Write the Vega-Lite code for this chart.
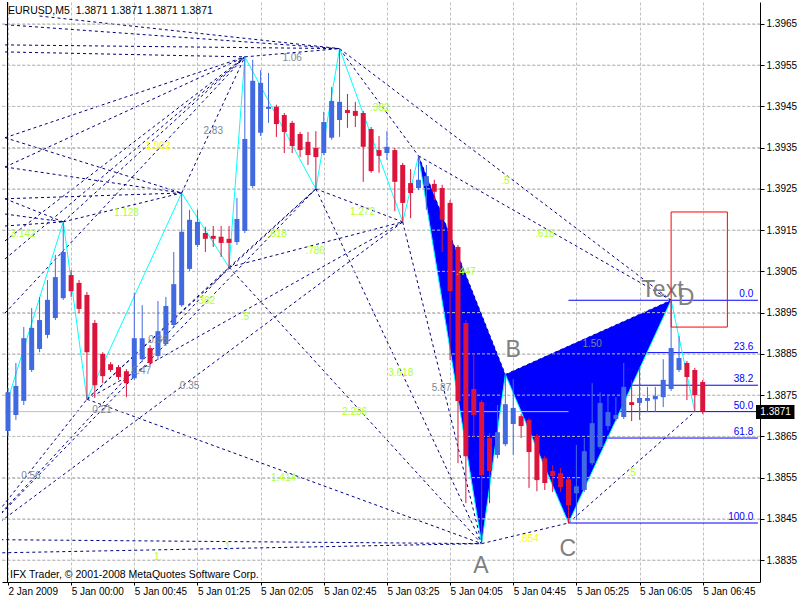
{
  "$schema": "https://vega.github.io/schema/vega-lite/v6.json",
  "width": 758,
  "height": 580,
  "autosize": {"type": "none"},
  "padding": {"left": 2, "top": 2, "right": 40, "bottom": 18},
  "background": "white",
  "config": {
    "view": {"stroke": null},
    "font": "Liberation Sans",
    "axis": {"labelFont": "Liberation Sans"}
  },
  "datasets": {
    "candles": [
      {"i":0,"o":1.38663,"h":1.38767,"l":1.38651,"c":1.38757},
      {"i":1,"o":1.38702,"h":1.38828,"l":1.3869,"c":1.38772},
      {"i":2,"o":1.38736,"h":1.38915,"l":1.38726,"c":1.38888},
      {"i":3,"o":1.38811,"h":1.38961,"l":1.38806,"c":1.38913},
      {"i":4,"o":1.38862,"h":1.38988,"l":1.38854,"c":1.38932},
      {"i":5,"o":1.38896,"h":1.39029,"l":1.38888,"c":1.38981},
      {"i":6,"o":1.38937,"h":1.3909,"l":1.38932,"c":1.39036},
      {"i":7,"o":1.38985,"h":1.3917,"l":1.38981,"c":1.39097},
      {"i":8,"o":1.39041,"h":1.39053,"l":1.38988,"c":1.39002},
      {"i":9,"o":1.39022,"h":1.39029,"l":1.38949,"c":1.38959},
      {"i":10,"o":1.38993,"h":1.39,"l":1.3874,"c":1.38854},
      {"i":11,"o":1.38925,"h":1.38932,"l":1.38743,"c":1.38774},
      {"i":12,"o":1.3885,"h":1.38854,"l":1.38779,"c":1.38796},
      {"i":13,"o":1.38825,"h":1.3883,"l":1.38806,"c":1.38811},
      {"i":14,"o":1.38818,"h":1.38823,"l":1.38787,"c":1.38794},
      {"i":15,"o":1.38808,"h":1.38813,"l":1.38745,"c":1.38779},
      {"i":16,"o":1.38791,"h":1.38998,"l":1.38787,"c":1.38888},
      {"i":17,"o":1.38837,"h":1.38968,"l":1.3883,"c":1.38888},
      {"i":18,"o":1.38864,"h":1.38871,"l":1.38821,"c":1.38828},
      {"i":19,"o":1.38845,"h":1.38978,"l":1.38835,"c":1.38905},
      {"i":20,"o":1.38874,"h":1.38988,"l":1.38869,"c":1.38966},
      {"i":21,"o":1.3892,"h":1.39097,"l":1.38915,"c":1.39019},
      {"i":22,"o":1.38968,"h":1.3924,"l":1.38964,"c":1.39146},
      {"i":23,"o":1.39056,"h":1.39199,"l":1.39051,"c":1.39175},
      {"i":24,"o":1.39114,"h":1.39199,"l":1.39109,"c":1.3917},
      {"i":25,"o":1.39143,"h":1.39158,"l":1.39097,"c":1.39129},
      {"i":26,"o":1.39136,"h":1.3916,"l":1.39109,"c":1.39129},
      {"i":27,"o":1.39134,"h":1.3916,"l":1.39085,"c":1.39119},
      {"i":28,"o":1.39129,"h":1.3916,"l":1.3906,"c":1.39119},
      {"i":29,"o":1.39121,"h":1.39228,"l":1.39114,"c":1.39177},
      {"i":30,"o":1.39148,"h":1.3957,"l":1.39143,"c":1.39371},
      {"i":31,"o":1.39257,"h":1.39563,"l":1.39252,"c":1.39512},
      {"i":32,"o":1.39386,"h":1.39538,"l":1.39378,"c":1.39507},
      {"i":33,"o":1.39444,"h":1.39531,"l":1.3941,"c":1.39449},
      {"i":34,"o":1.39449,"h":1.39454,"l":1.39376,"c":1.39407},
      {"i":35,"o":1.39429,"h":1.39434,"l":1.39337,"c":1.39388},
      {"i":36,"o":1.3941,"h":1.39415,"l":1.39337,"c":1.39354},
      {"i":37,"o":1.39383,"h":1.39388,"l":1.39327,"c":1.39344},
      {"i":38,"o":1.39364,"h":1.39388,"l":1.39308,"c":1.39332},
      {"i":39,"o":1.39349,"h":1.3939,"l":1.3925,"c":1.39327},
      {"i":40,"o":1.39337,"h":1.39437,"l":1.39332,"c":1.39412},
      {"i":41,"o":1.39374,"h":1.39497,"l":1.39369,"c":1.39463},
      {"i":42,"o":1.39417,"h":1.3959,"l":1.39376,"c":1.39461},
      {"i":43,"o":1.39441,"h":1.3948,"l":1.39398,"c":1.39434},
      {"i":44,"o":1.39439,"h":1.39461,"l":1.394,"c":1.39427},
      {"i":45,"o":1.39434,"h":1.39439,"l":1.39267,"c":1.39352},
      {"i":46,"o":1.39395,"h":1.394,"l":1.39289,"c":1.39293},
      {"i":47,"o":1.39344,"h":1.39378,"l":1.39289,"c":1.3933},
      {"i":48,"o":1.39337,"h":1.3939,"l":1.3932,"c":1.39352},
      {"i":49,"o":1.39344,"h":1.39349,"l":1.39196,"c":1.39267},
      {"i":50,"o":1.39308,"h":1.39313,"l":1.3917,"c":1.39216},
      {"i":51,"o":1.39264,"h":1.39298,"l":1.39179,"c":1.3924},
      {"i":52,"o":1.39252,"h":1.3933,"l":1.39247,"c":1.39272},
      {"i":53,"o":1.39257,"h":1.39308,"l":1.39199,"c":1.39281},
      {"i":54,"o":1.39262,"h":1.39272,"l":1.39223,"c":1.39243},
      {"i":55,"o":1.39252,"h":1.3926,"l":1.39097,"c":1.39175},
      {"i":56,"o":1.39216,"h":1.39223,"l":1.38835,"c":1.39002},
      {"i":57,"o":1.39109,"h":1.39114,"l":1.38585,"c":1.38736},
      {"i":58,"o":1.38925,"h":1.38932,"l":1.38488,"c":1.38602},
      {"i":59,"o":1.38765,"h":1.38852,"l":1.38648,"c":1.38702},
      {"i":60,"o":1.38733,"h":1.38738,"l":1.3839,"c":1.38556},
      {"i":61,"o":1.38646,"h":1.38658,"l":1.38488,"c":1.38566},
      {"i":62,"o":1.38605,"h":1.38726,"l":1.38597,"c":1.3866},
      {"i":63,"o":1.38631,"h":1.388,"l":1.38626,"c":1.38728},
      {"i":64,"o":1.3868,"h":1.38789,"l":1.38605,"c":1.38719},
      {"i":65,"o":1.38699,"h":1.38704,"l":1.38646,"c":1.38675},
      {"i":66,"o":1.3869,"h":1.38694,"l":1.38525,"c":1.38612},
      {"i":67,"o":1.38651,"h":1.38656,"l":1.38517,"c":1.38544},
      {"i":68,"o":1.38597,"h":1.38602,"l":1.3852,"c":1.38537},
      {"i":69,"o":1.38566,"h":1.3858,"l":1.38515,"c":1.38554},
      {"i":70,"o":1.38561,"h":1.38573,"l":1.38515,"c":1.38527},
      {"i":71,"o":1.38546,"h":1.38551,"l":1.3844,"c":1.38483},
      {"i":72,"o":1.38512,"h":1.38629,"l":1.38447,"c":1.38529},
      {"i":73,"o":1.3852,"h":1.38646,"l":1.38515,"c":1.38614},
      {"i":74,"o":1.38585,"h":1.38779,"l":1.3858,"c":1.38682},
      {"i":75,"o":1.38624,"h":1.38757,"l":1.38619,"c":1.38731},
      {"i":76,"o":1.38675,"h":1.3875,"l":1.38665,"c":1.38709},
      {"i":77,"o":1.38692,"h":1.38745,"l":1.38687,"c":1.38702},
      {"i":78,"o":1.38697,"h":1.38828,"l":1.38692,"c":1.3877},
      {"i":79,"o":1.38733,"h":1.38787,"l":1.38687,"c":1.38726},
      {"i":80,"o":1.38731,"h":1.38816,"l":1.3869,"c":1.38743},
      {"i":81,"o":1.38736,"h":1.3877,"l":1.38709,"c":1.38743},
      {"i":82,"o":1.3874,"h":1.3877,"l":1.38709,"c":1.38748},
      {"i":83,"o":1.38745,"h":1.38837,"l":1.38721,"c":1.38787},
      {"i":84,"o":1.38765,"h":1.3898,"l":1.3876,"c":1.38864},
      {"i":85,"o":1.38811,"h":1.38893,"l":1.38806,"c":1.3884},
      {"i":86,"o":1.38828,"h":1.38833,"l":1.38738,"c":1.38794},
      {"i":87,"o":1.38811,"h":1.38816,"l":1.3871,"c":1.3875},
      {"i":88,"o":1.38782,"h":1.38787,"l":1.38704,"c":1.3871}
    ],
    "zigzag": [
      {"x":0,"p":1.3874},{"x":7,"p":1.3917},{"x":10,"p":1.3874},{"x":22,"p":1.3924},
      {"x":28,"p":1.3906},{"x":30,"p":1.3957},{"x":39,"p":1.3925},{"x":42,"p":1.3959},
      {"x":50,"p":1.3917},{"x":52,"p":1.3933},{"x":60,"p":1.3839},{"x":63,"p":1.388},
      {"x":71,"p":1.3844},{"x":84,"p":1.3898},{"x":87,"p":1.3871}
    ],
    "web": [
      {"x1":4,"p1":1.39669,"x2":42,"p2":1.3959},
      {"x1":-0.375,"p1":1.39648,"x2":42,"p2":1.3959},
      {"x1":-0.375,"p1":1.39599,"x2":42,"p2":1.3959},
      {"x1":-0.375,"p1":1.39582,"x2":30,"p2":1.3957},
      {"x1":-0.375,"p1":1.39374,"x2":30,"p2":1.3957},
      {"x1":-0.375,"p1":1.39374,"x2":22,"p2":1.3924},
      {"x1":-0.375,"p1":1.39303,"x2":22,"p2":1.3924},
      {"x1":-0.375,"p1":1.39303,"x2":30,"p2":1.3957},
      {"x1":-0.375,"p1":1.39226,"x2":7,"p2":1.3917},
      {"x1":-0.375,"p1":1.39226,"x2":22,"p2":1.3924},
      {"x1":-0.375,"p1":1.39189,"x2":7,"p2":1.3917},
      {"x1":-0.375,"p1":1.3916,"x2":7,"p2":1.3917},
      {"x1":-0.375,"p1":1.39124,"x2":30,"p2":1.3957},
      {"x1":-0.375,"p1":1.3908,"x2":30,"p2":1.3957},
      {"x1":-0.375,"p1":1.38949,"x2":30,"p2":1.3957},
      {"x1":7,"p1":1.3917,"x2":22,"p2":1.3924},
      {"x1":7,"p1":1.3917,"x2":30,"p2":1.3957},
      {"x1":22,"p1":1.3924,"x2":30,"p2":1.3957},
      {"x1":30,"p1":1.3957,"x2":42,"p2":1.3959},
      {"x1":42,"p1":1.3959,"x2":52,"p2":1.3933},
      {"x1":42,"p1":1.3959,"x2":84,"p2":1.3898},
      {"x1":52,"p1":1.3933,"x2":63,"p2":1.388},
      {"x1":52,"p1":1.3933,"x2":84,"p2":1.3898},
      {"x1":63,"p1":1.388,"x2":84,"p2":1.3898},
      {"x1":-22,"p1":1.3836,"x2":60,"p2":1.3839},
      {"x1":-4,"p1":1.384,"x2":60,"p2":1.3839},
      {"x1":-4,"p1":1.384,"x2":10,"p2":1.3874},
      {"x1":-4,"p1":1.384,"x2":28,"p2":1.3906},
      {"x1":-4,"p1":1.384,"x2":39,"p2":1.3925},
      {"x1":-4,"p1":1.384,"x2":50,"p2":1.3917},
      {"x1":10,"p1":1.3874,"x2":28,"p2":1.3906},
      {"x1":10,"p1":1.3874,"x2":39,"p2":1.3925},
      {"x1":10,"p1":1.3874,"x2":50,"p2":1.3917},
      {"x1":10,"p1":1.3874,"x2":60,"p2":1.3839},
      {"x1":28,"p1":1.3906,"x2":39,"p2":1.3925},
      {"x1":28,"p1":1.3906,"x2":50,"p2":1.3917},
      {"x1":28,"p1":1.3906,"x2":60,"p2":1.3839},
      {"x1":39,"p1":1.3925,"x2":50,"p2":1.3917},
      {"x1":39,"p1":1.3925,"x2":60,"p2":1.3839},
      {"x1":50,"p1":1.3917,"x2":60,"p2":1.3839},
      {"x1":60,"p1":1.3839,"x2":71,"p2":1.3844},
      {"x1":71,"p1":1.3844,"x2":87,"p2":1.3871}
    ],
    "ratios": [
      {"x":36.0,"p":1.39568,"t":"1.06","g":"off"},
      {"x":47.1,"p":1.39446,"t":".382","g":"fib"},
      {"x":63.0,"p":1.39269,"t":".5","g":"fib"},
      {"x":68.0,"p":1.39141,"t":".618","g":"fib"},
      {"x":58.0,"p":1.39049,"t":".447","g":"fib"},
      {"x":54.9,"p":1.38767,"t":"5.87","g":"off"},
      {"x":49.75,"p":1.38804,"t":"3.618","g":"fib"},
      {"x":43.9,"p":1.38709,"t":"2.236","g":"fib"},
      {"x":34.9,"p":1.38549,"t":"1.414","g":"fib"},
      {"x":66.0,"p":1.38401,"t":".854","g":"near"},
      {"x":74.0,"p":1.38874,"t":"1.50","g":"off"},
      {"x":79.0,"p":1.38561,"t":".5","g":"fib"},
      {"x":44.9,"p":1.39194,"t":"1.272","g":"fib"},
      {"x":38.9,"p":1.391,"t":".786","g":"fib"},
      {"x":34.1,"p":1.39141,"t":".618","g":"fib"},
      {"x":25.0,"p":1.38978,"t":".382","g":"fib"},
      {"x":30.0,"p":1.38939,"t":".5","g":"fib"},
      {"x":15.0,"p":1.39192,"t":"1.128","g":"fib"},
      {"x":1.9,"p":1.39141,"t":"3.142","g":"fib"},
      {"x":19.0,"p":1.39354,"t":"1.902","g":"near"},
      {"x":26.0,"p":1.3939,"t":"2.83","g":"off"},
      {"x":23.0,"p":1.38772,"t":"0.35","g":"off"},
      {"x":19.0,"p":1.38884,"t":"0.36","g":"off"},
      {"x":16.9,"p":1.38808,"t":"0.47","g":"off"},
      {"x":11.9,"p":1.38714,"t":"0.21","g":"off"},
      {"x":2.9,"p":1.38554,"t":"0.56","g":"off"},
      {"x":19.0,"p":1.38357,"t":"1.","g":"fib"},
      {"x":28.0,"p":1.38382,"t":"1.","g":"fib"}
    ],
    "triangles": [
      {"tri":"XAB","x":52,"lo":1.3933,"hi":1.3933},
      {"tri":"XAB","x":60,"lo":1.3839,"hi":1.38945},
      {"tri":"XAB","x":63,"lo":1.388,"hi":1.388},
      {"tri":"BCD","x":63,"lo":1.388,"hi":1.388},
      {"tri":"BCD","x":71,"lo":1.3844,"hi":1.38869},
      {"tri":"BCD","x":84,"lo":1.3898,"hi":1.3898}
    ],
    "fibo": [
      {"lvl":"0.0","p":1.3898},
      {"lvl":"23.6","p":1.38853},
      {"lvl":"38.2","p":1.38774},
      {"lvl":"50.0","p":1.3871},
      {"lvl":"61.8","p":1.38646},
      {"lvl":"100.0","p":1.3844}
    ],
    "gridp": [
      {"p":1.3835},{"p":1.3845},{"p":1.3855},{"p":1.3865},{"p":1.3875},
      {"p":1.3885},{"p":1.3895},{"p":1.3905},{"p":1.3915},{"p":1.3925},
      {"p":1.3935},{"p":1.3945},{"p":1.3955},{"p":1.3965}
    ],
    "points": [
      {"x":59.9,"p":1.38335,"t":"A"},
      {"x":64.0,"p":1.38859,"t":"B"},
      {"x":70.9,"p":1.38377,"t":"C"},
      {"x":85.9,"p":1.38985,"t":"D"},
      {"x":82.9,"p":1.39005,"t":"Text"}
    ],
    "notes": [
      {"x":0,"p":1.39682,"t":"EURUSD,M5\u00a0 1.3871 1.3871 1.3871 1.3871"},
      {"x":0.25,"p":1.38314,"t":"IFX Trader, © 2001-2008 MetaQuotes Software Corp."}
    ]
  },
  "layer": [
    {
      "data": {"name": "web"},
      "mark": {"type": "rule", "color": "#000080", "strokeWidth": 1, "strokeDash": [3, 3], "clip": true},
      "encoding": {
        "x": {"field": "x1", "type": "quantitative", "title": null,
              "scale": {"domain": [-0.125, 94.625], "nice": false, "zero": false},
              "axis": {
                "orient": "bottom",
                "values": [0,4,8,12,16,20,24,28,32,36,40,44,48,52,56,60,64,68,72,76,80,84,88,92],
                "labelExpr": "datum.value % 8 == 0 ? ['2 Jan 2009','5 Jan 00:00','5 Jan 00:45','5 Jan 01:25','5 Jan 02:05','5 Jan 02:45','5 Jan 03:25','5 Jan 04:05','5 Jan 04:45','5 Jan 05:25','5 Jan 06:05','5 Jan 06:45'][datum.value / 8] : ''",
                "labelAlign": "left", "labelBaseline": "top", "labelFontSize": 10, "labelColor": "black",
                "labelPadding": 1, "labelFlush": false, "labelOverlap": false,
                "tickSize": 3, "tickColor": "black",
                "tickOpacity": {"condition": {"test": "datum.value % 8 == 0", "value": 1}, "value": 0},
                "domainColor": "black",
                "grid": true, "gridColor": "#C0C0C0", "gridDash": [3, 2]
              }},
        "x2": {"field": "x2"},
        "y": {"field": "p1", "type": "quantitative", "title": null,
              "scale": {"domain": [1.38297, 1.39703], "nice": false, "zero": false},
              "axis": {
                "orient": "right",
                "values": [1.3835,1.3845,1.3855,1.3865,1.3875,1.3885,1.3895,1.3905,1.3915,1.3925,1.3935,1.3945,1.3955,1.3965],
                "format": ".4f", "labelFontSize": 10, "labelColor": "black", "labelPadding": 2,
                "tickSize": 4, "tickColor": "black", "domainColor": "black",
                "grid": true, "gridColor": "#C0C0C0", "gridDash": [3, 2]
              }},
        "y2": {"field": "p2"}
      }
    },
    {
      "data": {"name": "fibo"},
      "mark": {"type": "rule", "color": "#0000FF", "strokeWidth": 1, "clip": true},
      "encoding": {
        "x": {"datum": 71, "type": "quantitative", "title": null},
        "x2": {"datum": 95},
        "y": {"field": "p", "type": "quantitative", "title": null}
      }
    },
    {
      "data": {"name": "triangles"},
      "mark": {"type": "area", "color": "#0000FF", "opacity": 1, "interpolate": "linear"},
      "encoding": {
        "x": {"field": "x", "type": "quantitative", "title": null},
        "y": {"field": "lo", "type": "quantitative", "title": null},
        "y2": {"field": "hi"},
        "detail": {"field": "tri"}
      }
    },
    {
      "data": {"name": "gridp"},
      "mark": {"type": "rule", "color": "#C0C0C0", "strokeWidth": 1, "strokeDash": [3, 2]},
      "encoding": {
        "y": {"field": "p", "type": "quantitative", "title": null}
      }
    },
    {
      "data": {"values": [{"x1": -0.375, "x2": 71, "p": 1.3871}]},
      "mark": {"type": "rule", "color": "#C0C0C0", "strokeWidth": 1, "clip": true},
      "encoding": {
        "x": {"field": "x1", "type": "quantitative", "title": null},
        "x2": {"field": "x2"},
        "y": {"field": "p", "type": "quantitative", "title": null}
      }
    },
    {
      "data": {"values": [{}]},
      "mark": {"type": "rule", "color": "black", "strokeWidth": 1},
      "encoding": {
        "x": {"datum": -0.0625, "type": "quantitative", "title": null}
      }
    },
    {
      "data": {"name": "zigzag"},
      "mark": {"type": "line", "color": "#00FFFF", "strokeWidth": 1},
      "encoding": {
        "x": {"field": "x", "type": "quantitative", "title": null},
        "y": {"field": "p", "type": "quantitative", "title": null}
      }
    },
    {
      "data": {"name": "candles"},
      "mark": {"type": "rule", "strokeWidth": 1},
      "encoding": {
        "x": {"field": "i", "type": "quantitative", "title": null},
        "y": {"field": "l", "type": "quantitative", "title": null},
        "y2": {"field": "h"},
        "color": {"condition": {"test": "datum.c >= datum.o", "value": "#4169E1"}, "value": "#DC143C"}
      }
    },
    {
      "data": {"name": "candles"},
      "mark": {"type": "bar", "width": 5, "orient": "vertical"},
      "encoding": {
        "x": {"field": "i", "type": "quantitative", "title": null},
        "y": {"field": "o", "type": "quantitative", "title": null},
        "y2": {"field": "c"},
        "color": {"condition": {"test": "datum.c >= datum.o", "value": "#4169E1"}, "value": "#DC143C"}
      }
    },
    {
      "data": {"name": "ratios"},
      "mark": {"type": "text", "fontSize": 10, "align": "center", "baseline": "middle"},
      "encoding": {
        "x": {"field": "x", "type": "quantitative", "title": null},
        "y": {"field": "p", "type": "quantitative", "title": null},
        "text": {"field": "t"},
        "color": {"field": "g", "type": "nominal", "legend": null,
                  "scale": {"domain": ["fib", "near", "off"], "range": ["#ADFF2F", "#FFFF00", "#778899"]}}
      }
    },
    {
      "data": {"name": "fibo"},
      "mark": {"type": "text", "fontSize": 10, "align": "right", "baseline": "bottom", "dy": -1, "color": "#0000FF"},
      "encoding": {
        "x": {"datum": 94.4, "type": "quantitative", "title": null},
        "y": {"field": "p", "type": "quantitative", "title": null},
        "text": {"field": "lvl"}
      }
    },
    {
      "data": {"name": "points"},
      "mark": {"type": "text", "fontSize": 23, "align": "center", "baseline": "middle", "color": "#808080"},
      "encoding": {
        "x": {"field": "x", "type": "quantitative", "title": null},
        "y": {"field": "p", "type": "quantitative", "title": null},
        "text": {"field": "t"}
      }
    },
    {
      "data": {"values": [{"x1": 84, "x2": 91.125, "p1": 1.39194, "p2": 1.38915}]},
      "mark": {"type": "rect", "fill": null, "fillOpacity": 0, "stroke": "#FF0000", "strokeWidth": 1},
      "encoding": {
        "x": {"field": "x1", "type": "quantitative", "title": null},
        "x2": {"field": "x2"},
        "y": {"field": "p1", "type": "quantitative", "title": null},
        "y2": {"field": "p2"}
      }
    },
    {
      "data": {"values": [{"x1": 94.75, "x2": 99.625, "p1": 1.38726, "p2": 1.38692}]},
      "mark": {"type": "rect", "color": "black"},
      "encoding": {
        "x": {"field": "x1", "type": "quantitative", "title": null},
        "x2": {"field": "x2"},
        "y": {"field": "p1", "type": "quantitative", "title": null},
        "y2": {"field": "p2"}
      }
    },
    {
      "data": {"values": [{"x": 95.3, "p": 1.3871, "t": "1.3871"}]},
      "mark": {"type": "text", "fontSize": 10, "align": "left", "baseline": "middle", "color": "white"},
      "encoding": {
        "x": {"field": "x", "type": "quantitative", "title": null},
        "y": {"field": "p", "type": "quantitative", "title": null},
        "text": {"field": "t"}
      }
    },
    {
      "data": {"name": "notes"},
      "mark": {"type": "text", "fontSize": 10.5, "align": "left", "baseline": "middle", "color": "black"},
      "encoding": {
        "x": {"field": "x", "type": "quantitative", "title": null},
        "y": {"field": "p", "type": "quantitative", "title": null},
        "text": {"field": "t"}
      }
    }
  ]
}
